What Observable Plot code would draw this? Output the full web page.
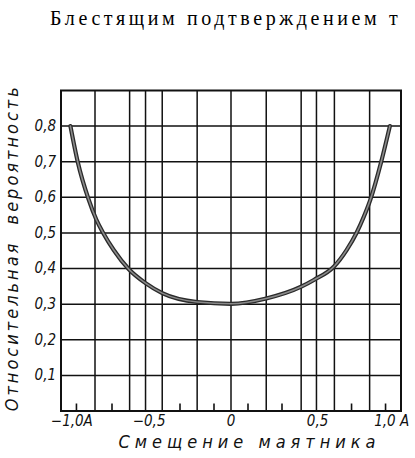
<!DOCTYPE html>
<html>
<head>
<meta charset="utf-8">
<script src="https://cdn.jsdelivr.net/npm/d3@7"></script>
<script src="https://cdn.jsdelivr.net/npm/@observablehq/plot@0.6"></script>
<style>
  html, body { margin: 0; padding: 0; background: #fff; overflow: hidden; }
  #wrap { position: relative; width: 415px; height: 458px; overflow: hidden; }
  #bookline { position: absolute; left: 50px; top: 7px; white-space: nowrap; line-height: 23px;
    font-family: "Liberation Serif", "DejaVu Serif", serif; font-size: 20px; letter-spacing: 3.6px; color: #000; }
  #chart { position: absolute; left: 0; top: 0; }
</style>
</head>
<body>
<div id="wrap">
  <div id="chart"></div>
  <div id="bookline">Блестящим подтверждением т</div>
</div>
<script>
// Curve (x: displacement in units of A, y: relative probability)
const curveX = [-1.039, -0.992, -0.922, -0.871, -0.827, -0.759, -0.661, -0.553, -0.445, -0.219, 0, 0.228, 0.454, 0.536, 0.665, 0.748, 0.812, 0.860, 0.903, 0.972, 1.028];
const curveY = [0.80, 0.70, 0.595, 0.537, 0.50, 0.452, 0.398, 0.359, 0.331, 0.306, 0.301, 0.316, 0.349, 0.368, 0.405, 0.452, 0.50, 0.546, 0.595, 0.70, 0.80];

// Grid and ticks
const gridX = [-0.88, -0.656, -0.553, -0.445, -0.219, 0, 0.228, 0.454, 0.553, 0.669, 0.897];
const gridY = [0.1, 0.2, 0.3, 0.4, 0.5, 0.6, 0.7, 0.8];
const minorTicksX = [-1.0, -0.77, -0.33, -0.11, 0.11, 0.33, 0.78, 1.0];
const xLabelPos = [-1.03, -0.53, 0, 0.56, 1.04];
const xLabelText = ["−1,0A", "−0,5", "0", "0,5", "1,0 A"];
const yTickLabels = ["0,1", "0,2", "0,3", "0,4", "0,5", "0,6", "0,7", "0,8"];

const xTitle = "Смещение маятника";
const yTitle = "Относительная  вероятность";

const FONT = "'DejaVu Sans Condensed', 'Liberation Sans Narrow', 'DejaVu Sans', sans-serif";

const curve = curveX.map((x, i) => ({x, y: curveY[i]}));

const W = 415, H = 458, ML = 60.5, MR = 14.5, MT = 90, MB = 47.5;
const TICK_LEN = 7;

const chart = Plot.plot({
  width: W,
  height: H,
  marginLeft: ML,
  marginRight: MR,
  marginTop: MT,
  marginBottom: MB,
  x: {domain: [-1.1, 1.1]},
  y: {domain: [0, 0.9]},
  style: {fontFamily: FONT, fontStyle: "italic", fontSize: "15px", color: "#111", background: "#fff"},
  marks: [
    Plot.ruleX(gridX, {stroke: "#111", strokeWidth: 1.5}),
    Plot.ruleY(gridY, {stroke: "#111", strokeWidth: 1.5}),
    Plot.axisX({ticks: xLabelPos, tickSize: 0, tickPadding: 4, tickFormat: d => xLabelText[xLabelPos.indexOf(d)], label: null, fontSize: 15}),
    Plot.axisY({ticks: gridY, tickSize: 0, tickPadding: 5, tickFormat: d => yTickLabels[gridY.indexOf(d)], label: null, fontSize: 15}),
    Plot.frame({stroke: "#111", strokeWidth: 2}),
    // short inward ticks on the bottom edge
    Plot.ruleX(minorTicksX, {stroke: "#111", strokeWidth: 1.6, insetTop: (H - MT - MB) - TICK_LEN}),
    Plot.line(curve, {x: "x", y: "y", curve: "monotone-x", stroke: "#2a2a2a", strokeWidth: 4.2}),
    Plot.line(curve, {x: "x", y: "y", curve: "monotone-x", stroke: "#8a8a8a", strokeWidth: 1.6}),
    Plot.text([xTitle], {frameAnchor: "bottom", textAnchor: "middle", lineAnchor: "middle", dx: 18.5, dy: 31, fontSize: 18, fill: "#111"}),
    Plot.text([yTitle], {frameAnchor: "left", textAnchor: "middle", lineAnchor: "middle", rotate: -90, dx: -48.5, dy: -3, fontSize: 18, fill: "#111"})
  ]
});
document.getElementById("chart").appendChild(chart);
// drafting-style letter spacing for axis titles
d3.select(chart).selectAll("text").filter(function() { return this.textContent === xTitle; }).style("letter-spacing", "5px");
d3.select(chart).selectAll("text").filter(function() { return this.textContent === yTitle; }).style("letter-spacing", "3px");
</script>
</body>
</html>
